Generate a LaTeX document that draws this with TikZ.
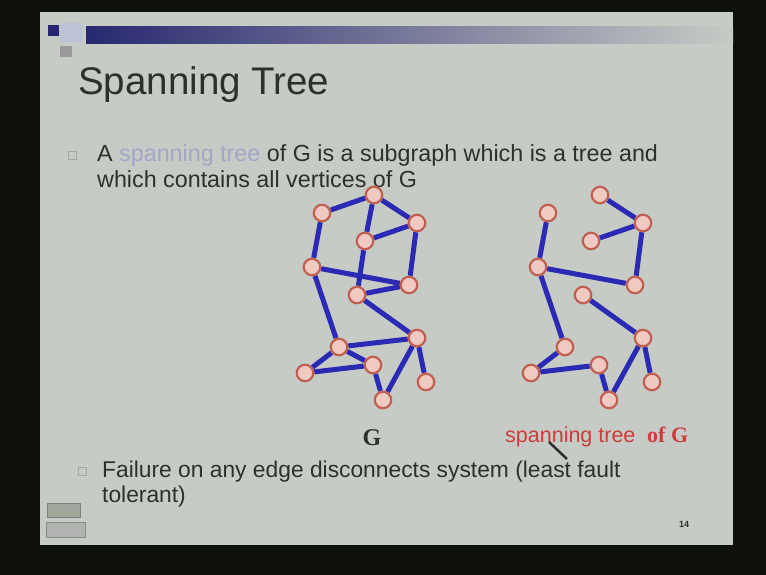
\documentclass[tikz,border=0pt]{standalone}
\usepackage{fontspec}
\setmainfont{Liberation Sans}
\newfontfamily\serifface{Liberation Serif}
\pgfdeclarelayer{bg}
\pgfsetlayers{bg,main}

\definecolor{framedark}{RGB}{14,16,12}
\definecolor{slidebg}{RGB}{199,203,197}
\definecolor{slidetext}{RGB}{45,48,45}
\definecolor{fadeblue}{RGB}{160,168,198}
\definecolor{barnavy}{RGB}{40,40,112}
\definecolor{vtxpink}{RGB}{240,202,192}
\definecolor{vtxred}{RGB}{192,96,82}
\definecolor{edgeblue}{RGB}{42,42,180}
\definecolor{lblred}{RGB}{205,60,60}
\definecolor{icongray}{RGB}{160,168,155}

\begin{document}
\begin{tikzpicture}[x=1pt,y=-1pt,
    vtx/.style={circle, draw=vtxred, fill=vtxpink, line width=2.2pt, minimum size=16.5pt, inner sep=0pt},
    edge/.style={draw=edgeblue, line width=5pt},
    txt/.style={anchor=base west, inner sep=0pt, text=slidetext, font=\fontsize{23.3}{27}\selectfont},
    bulletbox/.style={draw=gray!70, line width=0.8pt, minimum size=8pt, inner sep=0pt}]
    \useasboundingbox (0,0) rectangle (766,575);

    \begin{pgfonlayer}{bg}
    % Frame and slide
    \fill[framedark] (0,0) rectangle (766,575);
    \fill[slidebg] (40,12) rectangle (733,545);

    % Title bar
    \fill[barnavy] (48,25) rectangle (59,36);
    \fill[fadeblue!70] (60,23) rectangle (82,42);
    \fill[gray!80] (60,46) rectangle (72,57);
    \shade[left color=barnavy, right color=slidebg] (86,27) rectangle (733,44);
    \end{pgfonlayer}

    % Title
    \node[anchor=base west, inner sep=0pt, text=slidetext, font=\fontsize{38.5}{40}\selectfont]
        (title) at (78,95) {Spanning Tree};

    % First bullet
    \node[bulletbox] (b1) at (72,155) {};
    \node[txt] (line1) at (97,161) {A \textcolor{fadeblue}{spanning tree} of G is a subgraph which is a tree and};
    \node[txt] (line2) at (97,187) {which contains all vertices of G};

    % Vertices of G and of its spanning tree
    \foreach \n/\x/\y in {1/374/195, 2/322/213, 3/417/223, 4/365/241, 5/312/267,
                          6/409/285, 7/357/295, 8/417/338, 9/339/347, 10/373/365,
                          11/305/373, 12/426/382, 13/383/400} {
        \node[vtx] (g\n) at (\x,\y) {};
        \node[vtx] (t\n) at (\x+226,\y) {};
    }

    \begin{pgfonlayer}{bg}
    % Edges of G
    \foreach \a/\b in {1/2, 1/3, 1/4, 4/3, 2/5, 4/7, 3/6, 5/6, 7/6, 7/8,
                       5/9, 9/8, 9/11, 9/10, 11/10, 10/13, 13/8, 8/12} {
        \draw[edge] (g\a) -- (g\b);
    }
    % Edges of the tree
    \foreach \a/\b in {1/3, 4/3, 2/5, 3/6, 5/6, 7/8,
                       5/9, 9/11, 11/10, 10/13, 13/8, 8/12} {
        \draw[edge] (t\a) -- (t\b);
    }
    \end{pgfonlayer}

    % Labels
    \node[anchor=base, inner sep=0pt, text=slidetext, font=\serifface\bfseries\fontsize{24}{26}\selectfont]
        (glbl) at (372,445) {G};
    \node[anchor=base west, inner sep=0pt, text=lblred, font=\fontsize{21.5}{24}\selectfont]
        (spanlbl) at (505,442) {spanning tree};
    \node[anchor=base west, inner sep=0pt, text=lblred, font=\serifface\bfseries\fontsize{22}{24}\selectfont]
        (oflbl) at (647,442) {of G};
    \coordinate (ptrA) at (549,442);
    \coordinate (ptrB) at (567,459);
    \draw[line width=2.5pt, slidetext] (ptrA) -- (ptrB);

    % Second bullet
    \node[bulletbox] (b2) at (82,471) {};
    \node[txt, font=\fontsize{22.8}{27}\selectfont] (line3) at (102,477) {Failure on any edge disconnects system (least fault};
    \node[txt, font=\fontsize{22.8}{27}\selectfont] (line4) at (102,502) {tolerant)};

    % Corner icon and page number
    \fill[icongray, draw=gray] (47,503) rectangle (80,517);
    \fill[gray!30!slidebg, draw=gray!90] (46,522) rectangle (85,537);
    \node[anchor=base, inner sep=0pt, text=slidetext, font=\bfseries\fontsize{9}{10}\selectfont]
        (pagenum) at (684,527) {14};
\end{tikzpicture}
\end{document}
